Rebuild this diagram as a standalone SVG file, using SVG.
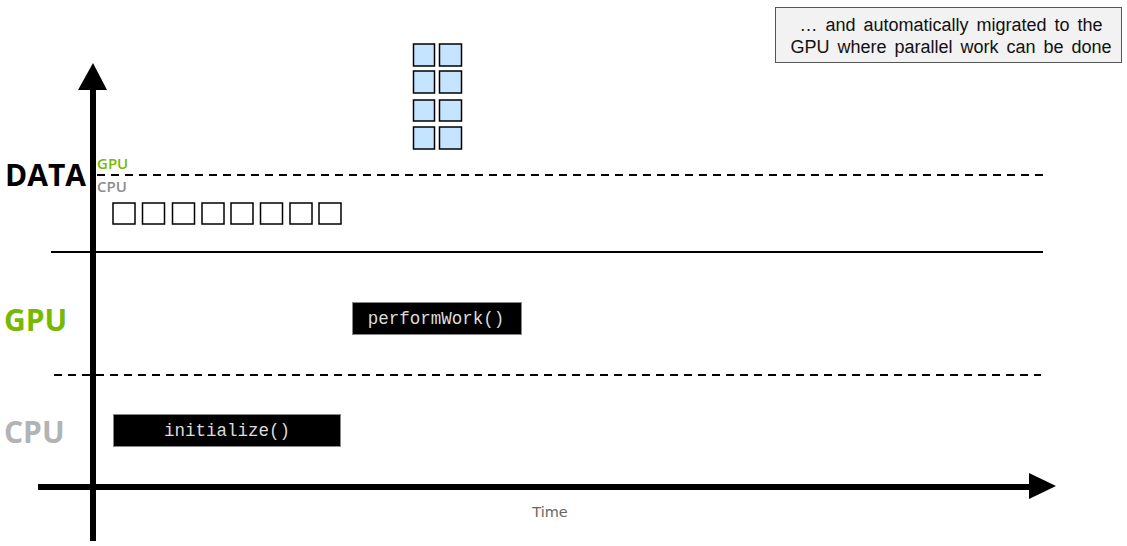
<svg xmlns="http://www.w3.org/2000/svg" width="1127" height="546" viewBox="0 0 1127 546">
<style>
.lane{font-family:"Open Sans","DejaVu Sans",sans-serif;font-weight:bold;font-size:30px}
.small{font-family:"Open Sans","DejaVu Sans",sans-serif;font-weight:600;font-size:15px}
.dash{stroke:#000;stroke-width:2;stroke-dasharray:8 6;fill:none}
.solid{stroke:#000;stroke-width:2;fill:none}
.axis{stroke:#000;stroke-width:6;fill:none}
.sq{fill:#fff;stroke:#000;stroke-width:1.5}
.bsq{fill:#c4e4ff;stroke:#000;stroke-width:1.5}
.fn{fill:#000;stroke:#888;stroke-width:1}
.code{font-family:"Liberation Mono",monospace;font-size:17.5px;fill:#dcdcdc;text-anchor:middle}
.note{font-family:"Liberation Sans",Arial,sans-serif;font-size:18px;word-spacing:3px;fill:#111;text-anchor:middle}
</style>
<rect width="1127" height="546" fill="#fff"/>
<g id="connectors">
<line class="dash" x1="97" y1="175" x2="1043" y2="175"/>
<line class="solid" x1="51" y1="252" x2="1043" y2="252"/>
<line class="dash" x1="54" y1="375" x2="1041" y2="375"/>
<line class="axis" x1="93" y1="541" x2="93" y2="88"/>
<polygon points="93,63 78,90 107,90" fill="#000"/>
<line class="axis" x1="38" y1="487" x2="1032" y2="487"/>
<polygon points="1056,486 1029,473 1029,499" fill="#000"/>
</g>
<g id="labels">
<text class="lane" x="5" y="186" fill="#000">DATA</text>
<text class="lane" x="4" y="331" fill="#76b900">GPU</text>
<text class="lane" x="4" y="443" fill="#b3b3b3">CPU</text>
<text class="small" x="97" y="169" fill="#76b900">GPU</text>
<text class="small" x="97" y="192" fill="#8c8c8c">CPU</text>
<text x="550" y="517" font-family="DejaVu Sans,sans-serif" font-size="14.5" fill="#666" text-anchor="middle">Time</text>
</g>
<g id="cpu-data">
<rect class="sq" x="113" y="203" width="22" height="21"/>
<rect class="sq" x="142.5" y="203" width="22" height="21"/>
<rect class="sq" x="172.5" y="203" width="22" height="21"/>
<rect class="sq" x="202" y="203" width="22" height="21"/>
<rect class="sq" x="231" y="203" width="22" height="21"/>
<rect class="sq" x="260.5" y="203" width="22" height="21"/>
<rect class="sq" x="290" y="203" width="22" height="21"/>
<rect class="sq" x="319" y="203" width="22" height="21"/>
</g>
<g id="gpu-data">
<rect class="bsq" x="413.5" y="44" width="21" height="22"/>
<rect class="bsq" x="439.5" y="44" width="22" height="22"/>
<rect class="bsq" x="413.5" y="71" width="21" height="22"/>
<rect class="bsq" x="439.5" y="71" width="22" height="22"/>
<rect class="bsq" x="413.5" y="100" width="21" height="21"/>
<rect class="bsq" x="439.5" y="100" width="22" height="21"/>
<rect class="bsq" x="413.5" y="127" width="21" height="22"/>
<rect class="bsq" x="439.5" y="127" width="22" height="22"/>
</g>
<g id="performWork">
<rect class="fn" x="352.5" y="302.5" width="169" height="32"/>
<text class="code" x="436" y="324">performWork()</text>
</g>
<g id="initialize">
<rect class="fn" x="113.5" y="414.5" width="227" height="32"/>
<text class="code" x="227" y="436">initialize()</text>
</g>
<g id="note">
<rect x="775.5" y="7.5" width="346" height="55" fill="#f2f2f2" stroke="#555" stroke-width="1"/>
<text class="note" x="951" y="31">… and automatically migrated to the</text>
<text class="note" x="951" y="53">GPU where parallel work can be done</text>
</g>
</svg>
